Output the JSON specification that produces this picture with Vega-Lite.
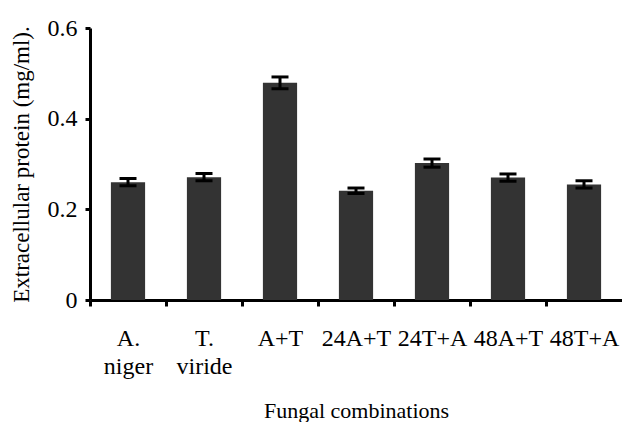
{
  "$schema": "https://vega.github.io/schema/vega-lite/v6.json",
  "width": 532,
  "height": 272,
  "autosize": "none",
  "padding": {"left": 90, "top": 28, "right": 0, "bottom": 122},
  "config": {
    "font": "Liberation Serif",
    "view": {"strokeWidth": 0}
  },
  "data": {
    "values": [
      {"combo": "A. niger", "mean": 0.26, "lo": 0.252, "hi": 0.268},
      {"combo": "T. viride", "mean": 0.271, "lo": 0.263, "hi": 0.279},
      {"combo": "A+T", "mean": 0.479, "lo": 0.466, "hi": 0.492},
      {"combo": "24A+T", "mean": 0.241, "lo": 0.235, "hi": 0.247},
      {"combo": "24T+A", "mean": 0.302, "lo": 0.293, "hi": 0.311},
      {"combo": "48A+T", "mean": 0.27, "lo": 0.262, "hi": 0.278},
      {"combo": "48T+A", "mean": 0.255, "lo": 0.247, "hi": 0.263}
    ]
  },
  "layer": [
    {
      "mark": {"type": "bar", "color": "#333333"},
      "encoding": {
        "x": {
          "field": "combo", "type": "nominal", "sort": null,
          "scale": {"paddingInner": 0.55, "paddingOuter": 0.275},
          "axis": {
            "grid": false, "domainColor": "black", "domainWidth": 3, "tickColor": "black", "tickWidth": 3, "tickSize": 6,
            "tickOffset": -38, "labelOffset": 38,
            "labelColor": "black", "labelFontSize": 24, "labelAngle": 0, "labelBaseline": "alphabetic", "labelPadding": 39,
            "labelLineHeight": 28, "labelExpr": "split(datum.label, ' ')",
            "title": "Fungal combinations", "titleColor": "black", "titleFontWeight": "normal", "titleFontSize": 22, "titleY": 117, "titleBaseline": "alphabetic"
          }
        },
        "y": {
          "field": "mean", "type": "quantitative",
          "scale": {"domain": [0, 0.6], "nice": false},
          "axis": {
            "grid": false, "domainColor": "black", "domainWidth": 3, "tickColor": "black", "tickWidth": 3, "tickSize": 5,
            "tickCount": 3, "format": "~g",
            "labelColor": "black", "labelFontSize": 24, "labelPadding": 8,
            "title": "Extracellular protein (mg/ml).", "titleColor": "black", "titleFontWeight": "normal", "titleFontSize": 23, "titleX": -62, "titleBaseline": "alphabetic"
          }
        }
      }
    },
    {
      "mark": {"type": "rule", "color": "black", "strokeWidth": 3},
      "encoding": {
        "x": {"field": "combo", "type": "nominal", "sort": null},
        "y": {"field": "lo", "type": "quantitative"},
        "y2": {"field": "hi"}
      }
    },
    {
      "mark": {"type": "point", "shape": "stroke", "filled": false, "color": "black", "strokeWidth": 3, "size": 289, "opacity": 1},
      "encoding": {
        "x": {"field": "combo", "type": "nominal", "sort": null},
        "y": {"field": "lo", "type": "quantitative"}
      }
    },
    {
      "mark": {"type": "point", "shape": "stroke", "filled": false, "color": "black", "strokeWidth": 3, "size": 289, "opacity": 1},
      "encoding": {
        "x": {"field": "combo", "type": "nominal", "sort": null},
        "y": {"field": "hi", "type": "quantitative"}
      }
    }
  ]
}
